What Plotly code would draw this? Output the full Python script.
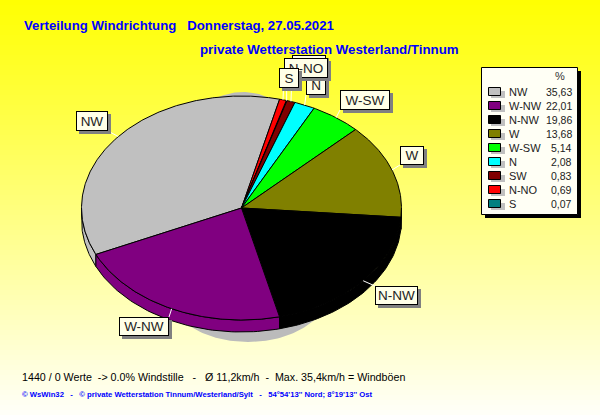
import numpy as np
import plotly.graph_objects as go

# Data
categories = ["NW", "N-NO", "S", "SW", "N", "W-SW", "W", "N-NW", "W-NW"]
values = [35.63, 0.69, 0.07, 0.83, 2.08, 5.14, 13.68, 19.86, 22.01]
slice_colors = ["#C0C0C0", "#FF0000", "#008080", "#800000", "#00FFFF", "#00FF00", "#808000", "#000000", "#800080"]
legend_names = ["NW", "W-NW", "N-NW", "W", "W-SW", "N", "SW", "N-NO", "S"]
legend_values = ["35,63", "22,01", "19,86", "13,68", "5,14", "2,08", "0,83", "0,69", "0,07"]
legend_colors = ["#C0C0C0", "#800080", "#000000", "#808000", "#00FF00", "#00FFFF", "#800000", "#FF0000", "#008080"]

# Layout and style constants (canvas pixels)
W, H = 600, 415
CX, CY, RX, RY = 241.5, 208, 160, 112
DEPTH = 12
START = -114.5  # degrees clockwise from top where the first slice begins
FONT = "Liberation Sans"
SHADOW_BLOBS = [(248, 282, 86, 60), (243, 152, 60, 60)]  # cx, cy, rx, ry of the grey patches behind the pie
LABELS = {  # draw order matters: later boxes cover earlier ones
    "NW": (76, 111, 32, 20), "W-NW": (119, 317, 50, 19), "N-NW": (375, 286, 43, 19),
    "W": (400, 146, 24, 19), "W-SW": (340, 90, 50, 20), "SW": (292, 55, 34, 18),
    "N": (306, 76, 20, 19), "N-NO": (284, 58, 44, 20), "S": (279, 68, 20, 20),
}
LABEL_ORDER = ["NW", "W-NW", "N-NW", "W", "W-SW", "SW", "N", "N-NO", "S"]

fig = go.Figure()

def pt(deg, dy=0):
    t = np.radians(deg)
    return CX + RX * np.sin(t), CY + dy - RY * np.cos(t)

shapes = []
# background gradient
STEPS = 83
for i in range(STEPS):
    c = int(round(250 * (i + 0.5) / STEPS))
    shapes.append(dict(type="rect", xref="x", yref="y", x0=0, x1=W, y0=i * H / STEPS, y1=(i + 1) * H / STEPS,
                       fillcolor=f"rgb(255,255,{c})", line_width=0, layer="below"))

# grey patches behind the pie
for bx, by, brx, bry in SHADOW_BLOBS:
    a = np.radians(np.linspace(0, 360, 181))
    fig.add_trace(go.Scatter(x=bx + brx * np.sin(a), y=by + bry * np.cos(a), mode="lines", fill="toself",
                             fillcolor="#BBBBBB", line=dict(width=0), hoverinfo="skip", showlegend=False))

# slice extents
total = sum(values)
spans = []
cur = START
for v in values:
    d = v / total * 360
    spans.append((cur, cur + d))
    cur += d

# side walls
for (a0, a1), col in zip(spans, slice_colors):
    for k in (-1, 0):
        lo = max(a0, 90 + 360 * k)
        hi = min(a1, 270 + 360 * k)
        if hi <= lo:
            continue
        arc = np.linspace(lo, hi, 60)
        x1, y1 = pt(arc)
        x2, y2 = pt(arc[::-1], DEPTH)
        fig.add_trace(go.Scatter(x=np.r_[x1, x2, x1[0]], y=np.r_[y1, y2, y1[0]], mode="lines", fill="toself",
                                 fillcolor=col, line=dict(color="black", width=1), hoverinfo="skip", showlegend=False))

# top faces
for (a0, a1), col, name in zip(spans, slice_colors, categories):
    arc = np.linspace(a0, a1, max(3, int((a1 - a0) * 2)))
    x, y = pt(arc)
    fig.add_trace(go.Scatter(x=np.r_[CX, x, CX], y=np.r_[CY, y, CY], mode="lines", fill="toself", fillcolor=col,
                             line=dict(color="black", width=1), name=name, hoverinfo="name", showlegend=False))

# leader lines
for (a0, a1), name in zip(spans, categories):
    bx, by, bw, bh = LABELS[name]
    mx, my = pt((a0 + a1) / 2)
    tx = min(max(mx, bx), bx + bw)
    ty = min(max(my, by), by + bh)
    fig.add_trace(go.Scatter(x=[mx, tx], y=[my, ty], mode="lines", line=dict(color="white", width=1),
                             hoverinfo="skip", showlegend=False))

ann = []
for name in LABEL_ORDER:
    bx, by, bw, bh = LABELS[name]
    ann.append(dict(x=bx + 3, y=by + 3, xref="x", yref="y", xanchor="left", yanchor="top", text=" ",
                    width=bw, height=bh, bgcolor="#808080", borderwidth=0, borderpad=0, showarrow=False))
    ann.append(dict(x=bx, y=by, xref="x", yref="y", xanchor="left", yanchor="top", text=name, width=bw - 2, height=bh - 2,
                    bgcolor="#FFFFE8", bordercolor="black", borderwidth=1, borderpad=0, showarrow=False,
                    font=dict(family=FONT, size=13.5, color="#222222"), align="center", valign="middle"))

def txt(x, y, s, size, color="black", bold=False, anchor="left", family=FONT):
    ann.append(dict(x=x, y=y, xref="x", yref="y", xanchor=anchor, yanchor="middle", showarrow=False, borderpad=0,
                    text=f"<b>{s}</b>" if bold else s, font=dict(family=family, size=size, color=color)))

txt(23, 25, "Verteilung Windrichtung &nbsp; Donnerstag, 27.05.2021", 13.2, "#0000FF", True)
txt(199, 49, "private Wetterstation Westerland/Tinnum", 13.3, "#0000FF", True)
txt(21, 377, "1440 / 0 Werte &nbsp;-&gt; 0.0% Windstille &nbsp; - &nbsp; Ø 11,2km/h &nbsp;- &nbsp;Max. 35,4km/h = Windböen", 10.7)
txt(21, 394, "© WsWin32 &nbsp; - &nbsp; © private Wetterstation Tinnum/Westerland/Sylt &nbsp; - &nbsp; 54°54'13'' Nord; 8°19'13'' Ost",
    7.7, "#0000FF", True)

# legend box
shapes.append(dict(type="rect", xref="x", yref="y", x0=485, y0=71, x1=581, y1=218, fillcolor="black", line_width=0))
shapes.append(dict(type="rect", xref="x", yref="y", x0=481.5, y0=67.5, x1=577.5, y1=214.5, fillcolor="#FFFFF5",
                   line=dict(color="black", width=1)))
txt(560, 76, "%", 11, "#333333", anchor="center")
for i, (n, v, c) in enumerate(zip(legend_names, legend_values, legend_colors)):
    y = 92 + i * 14
    shapes.append(dict(type="rect", xref="x", yref="y", x0=491, y0=y - 1, x1=505, y1=y + 6, fillcolor="#C0C0C0", line_width=0))
    shapes.append(dict(type="rect", xref="x", yref="y", x0=488.5, y0=y - 4.5, x1=500.5, y1=y + 3.5, fillcolor=c,
                       line=dict(color="black", width=1)))
    txt(508, y, n, 11, "#222222")
    txt(573, y, v, 10.5, "#222222", anchor="right")

fig.update_layout(
    width=W, height=H, margin=dict(l=0, r=0, t=0, b=0), paper_bgcolor="#FFFFFF", plot_bgcolor="rgba(0,0,0,0)",
    xaxis=dict(range=[0, W], visible=False, fixedrange=True),
    yaxis=dict(range=[H, 0], visible=False, fixedrange=True),
    shapes=shapes, annotations=ann, showlegend=False,
)
fig.write_html("out.html", config=dict(displayModeBar=False),
               post_script="document.body.style.margin='0';document.body.style.overflow='hidden';")
